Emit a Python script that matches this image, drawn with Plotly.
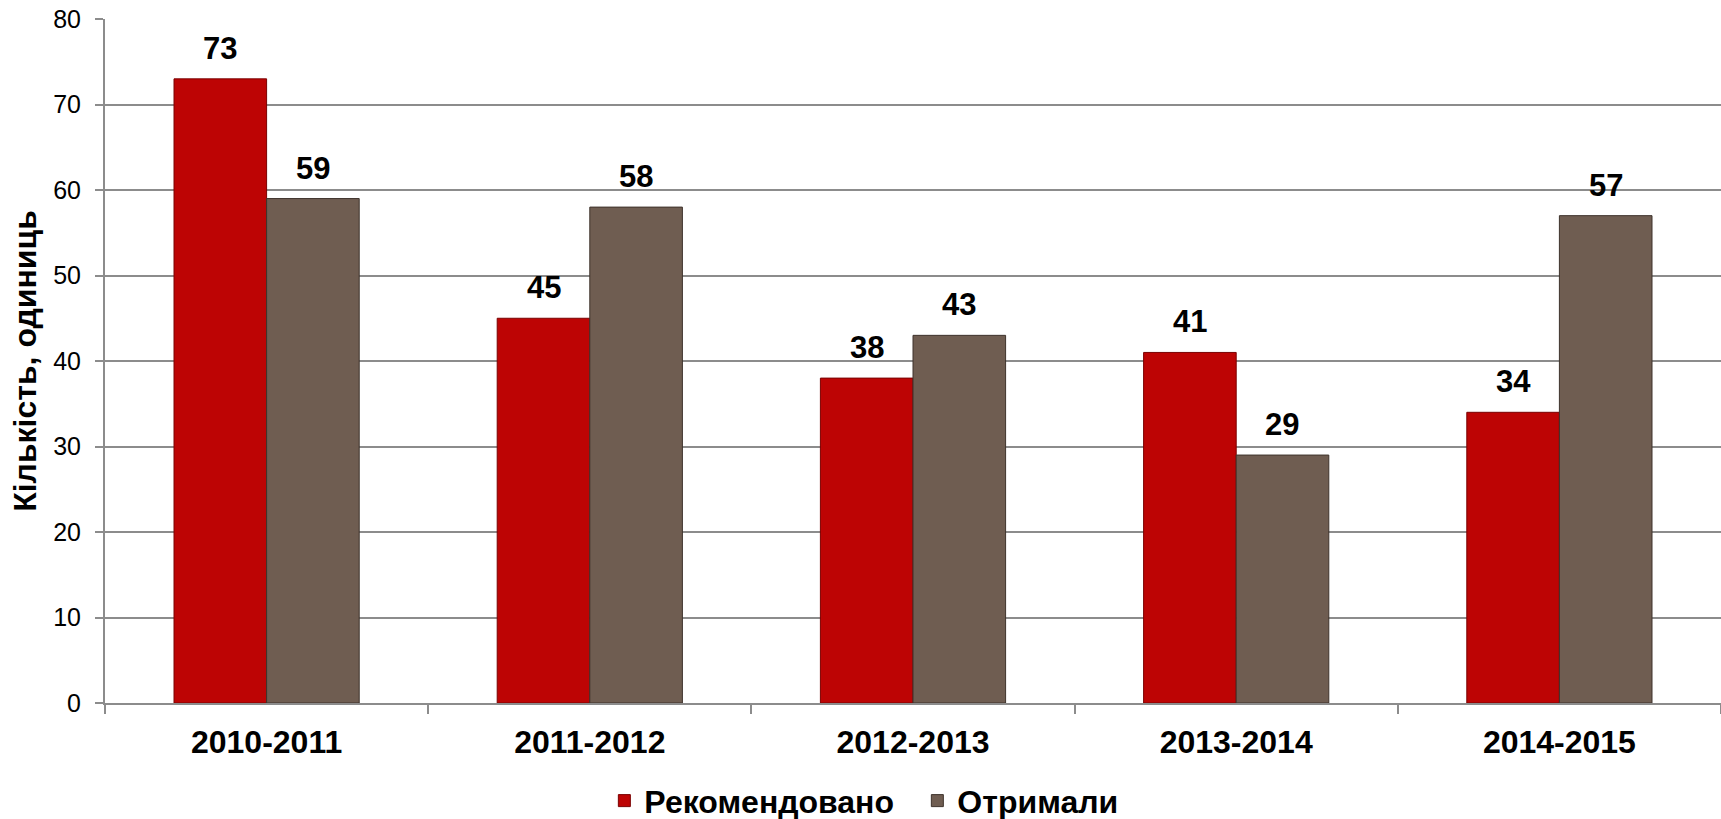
import plotly.graph_objects as go

categories = ["2010-2011", "2011-2012", "2012-2013", "2013-2014", "2014-2015"]
recommended = [73, 45, 38, 41, 34]
received = [59, 58, 43, 29, 57]
series_names = ["Рекомендовано", "Отримали"]
y_title = "Кількість, одиниць"

W, H = 1721, 819
ML, MR, MT, MB = 105, 0, 19, 116
BARGAP = 0.427
FONT = "Liberation Sans, Arial, sans-serif"

fig = go.Figure()
fig.add_trace(go.Bar(
    x=categories, y=recommended, name=f"<b>{series_names[0]}</b>",
    marker=dict(color="#bd0404", line=dict(color="#7a0202", width=1)),
))
fig.add_trace(go.Bar(
    x=categories, y=received, name=f"<b>{series_names[1]}</b>",
    marker=dict(color="#6f5d51", line=dict(color="#3e332c", width=1)),
))

plot_w = W - ML - MR
bar_px = plot_w / len(categories) * (1 - BARGAP) / 2
for vals, sgn in ((recommended, -1), (received, 1)):
    for c, v in zip(categories, vals):
        fig.add_annotation(
            x=c, y=v, xref="x", yref="y", text=f"<b>{v}</b>",
            showarrow=False, xshift=sgn * bar_px / 2, yshift=11,
            yanchor="bottom", font=dict(size=31, color="black", family=FONT),
        )

fig.update_layout(
    width=W, height=H,
    margin=dict(l=ML, r=MR, t=MT, b=MB, autoexpand=False),
    paper_bgcolor="white", plot_bgcolor="white",
    barmode="group", bargap=BARGAP, bargroupgap=0,
    font=dict(family=FONT, color="black"),
    showlegend=True,
    legend=dict(
        orientation="h", x=0.309, xanchor="left", y=-0.143, yanchor="middle",
        font=dict(size=32, color="black", family=FONT),
        traceorder="normal", entrywidth=268, entrywidthmode="pixels",
    ),
)
fig.update_xaxes(
    showline=True, linecolor="#8c8c8c", linewidth=2,
    ticks="outside", tickson="boundaries", ticklen=9, tickcolor="#8c8c8c", tickwidth=2,
    tickfont=dict(size=32, color="black", family=FONT),
    tickprefix="<b>", ticksuffix="</b>", ticklabelstandoff=10,
    showgrid=False,
)
fig.update_yaxes(
    range=[0, 80], dtick=10,
    showline=True, linecolor="#8c8c8c", linewidth=2,
    ticks="outside", ticklen=8, tickcolor="#8c8c8c", tickwidth=2,
    tickfont=dict(size=25, color="black", family=FONT), ticklabelstandoff=9,
    showgrid=True, gridcolor="#8c8c8c", gridwidth=2,
    zeroline=False,
    title=dict(text=f"<b>{y_title}</b>", font=dict(size=32, color="black", family=FONT), standoff=7),
)

fig.write_html("out.html", config={"displayModeBar": False},
               post_script="document.body.style.margin='0';")
